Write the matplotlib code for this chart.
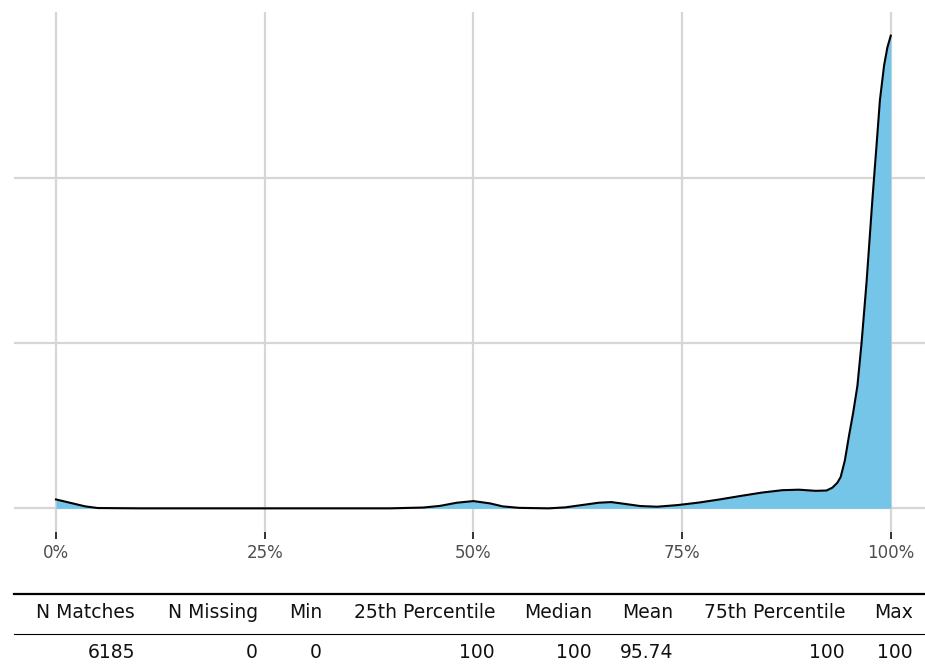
import numpy as np
import matplotlib
matplotlib.use("Agg")
import matplotlib.pyplot as plt
from matplotlib.lines import Line2D

# ===========================
# DATA
# ===========================
pct = [0, 1.5, 3.5, 5, 10, 20, 30, 40, 44, 46, 48, 50, 52, 53.5, 55.5,
       59, 61, 63, 65, 66.5, 68, 70, 72, 74.5, 77, 79.5, 82, 84.5, 87,
       89, 91, 92.3, 93.0, 93.6, 94, 94.5, 95, 95.5, 96, 96.5, 97.1,
       97.8, 98.3, 98.7, 99.2, 99.6, 100]
dens = [0.054, 0.036, 0.012, 0.002, 0.0, 0.0, 0.0, 0.0, 0.005, 0.015,
        0.034, 0.044, 0.030, 0.012, 0.003, 0.0, 0.006, 0.020, 0.034,
        0.038, 0.028, 0.014, 0.010, 0.020, 0.035, 0.054, 0.075, 0.095,
        0.110, 0.113, 0.106, 0.108, 0.125, 0.155, 0.190, 0.290, 0.44,
        0.58, 0.74, 1.00, 1.37, 1.87, 2.20, 2.47, 2.68, 2.79, 2.86]

x_ticks = [0, 25, 50, 75, 100]
x_labels = ["0%", "25%", "50%", "75%", "100%"]

headers = ["N Matches", "N Missing", "Min", "25th Percentile", "Median",
           "Mean", "75th Percentile", "Max"]
values = ["6185", "0", "0", "100", "100", "95.74", "100", "100"]

# ===========================
# FIGURE
# ===========================
W, H = 925, 669
fig = plt.figure(figsize=(W / 100, H / 100), dpi=100)
plt.rcParams["font.family"] = ["DejaVu Sans"]

# density panel (pixel layout: left 14, top 12, bottom 532)
ax = fig.add_axes([14 / W, 1 - 532 / H, 1 - 14 / W, (532 - 12) / H])
ax.fill_between(pct, dens, 0, color="#74C5E8", linewidth=0, zorder=2)
ax.plot(pct, dens, color="black", linewidth=1.5, zorder=3)

ax.set_xlim(-5.03, 104.1)
ax.set_ylim(-0.143, 3.003)
ax.set_xticks(x_ticks)
ax.set_xticklabels(x_labels)
ax.set_yticks([0, 1, 2])
ax.tick_params(axis="y", length=0, labelleft=False)
ax.tick_params(axis="x", direction="out", length=5, width=1.4,
               color="#333333", pad=4, labelsize=12, labelcolor="#4D4D4D")
ax.grid(True, color="#D6D6D6", linewidth=1.6, zorder=0)
ax.set_axisbelow(True)
for s in ax.spines.values():
    s.set_visible(False)

# summary table drawn in pixel coordinates
tab = fig.add_axes([0, 0, 1, 1], zorder=-1)
tab.set_xlim(0, W)
tab.set_ylim(H, 0)
tab.axis("off")

right_edges = [135, 258, 322, 495, 592, 673, 845, 913]
tab.add_line(Line2D([14, W], [594, 594], color="black", linewidth=1.6))
tab.add_line(Line2D([14, W], [634, 634], color="black", linewidth=0.8))
for xr, h, v in zip(right_edges, headers, values):
    tab.text(xr, 613, h, ha="right", va="center", fontsize=13.5, color="#111111")
    tab.text(xr, 652, v, ha="right", va="center", fontsize=13.5, color="#111111")

fig.savefig("out.png", dpi=100)
